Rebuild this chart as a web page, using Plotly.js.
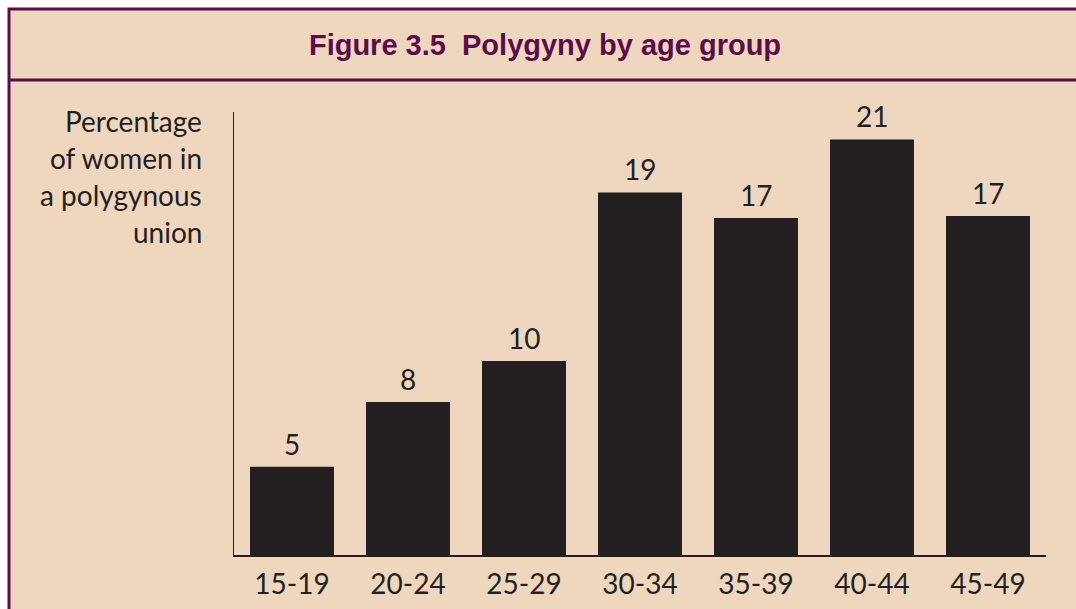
<!DOCTYPE html>
<html>
<head>
<meta charset="utf-8">
<script src="https://cdn.plot.ly/plotly-3.0.1.min.js"></script>
<style>
  html, body { margin: 0; padding: 0; background: #ffffff; }
  #chart { width: 1076px; height: 609px; }
</style>
</head>
<body>
<div id="chart"></div>
<script>
// Polygyny by age group
const ageGroups = ['15-19', '20-24', '25-29', '30-34', '35-39', '40-44', '45-49'];
const pctValues = [4.5, 7.8, 9.9, 18.5, 17.2, 21.2, 17.3];
const pctLabels = ['5', '8', '10', '19', '17', '21', '17'];
const yTitleLines = ['Percentage', 'of women in', 'a polygynous', 'union'];

const beige = '#efd7bf';
const purple = '#5b0c4a';
const ink = '#231f20';

// plot area in pixels: x 234..1046, y 112..555
const W = 1076, H = 609;
const L = 234, R = 1046, T = 112, B = 555;
const px = x => (x - L) / (R - L);
const py = y => (B - y) / (B - T);

const valueNotes = ageGroups.map((g, i) => ({
    x: g,
    y: pctValues[i],
    xref: 'x',
    yref: 'y',
    text: pctLabels[i],
    showarrow: false,
    yanchor: 'bottom',
    yshift: 4,
    font: { family: 'Lato, sans-serif', size: 28, color: ink }
}));

const titleNotes = yTitleLines.map((line, i) => ({
    x: px(204),
    y: py(121 + i * 37),
    xref: 'paper',
    yref: 'paper',
    text: line,
    showarrow: false,
    xanchor: 'right',
    yanchor: 'middle',
    font: { family: 'Lato, sans-serif', size: 28, color: ink }
}));

Plotly.newPlot('chart', [{
    x: ageGroups,
    y: pctValues,
    type: 'bar',
    width: 0.724,
    marker: { color: ink, line: { width: 0 } },
    hoverinfo: 'x+y'
}], {
    width: W,
    height: H,
    paper_bgcolor: '#ffffff',
    plot_bgcolor: 'rgba(0,0,0,0)',
    margin: { l: L, r: W - R, t: T, b: H - B },
    showlegend: false,
    title: {
        text: '<b>Figure 3.5  Polygyny by age group</b>',
        font: { family: 'Liberation Sans, Arial, sans-serif', size: 29, color: purple },
        xref: 'container',
        yref: 'container',
        x: 545 / W,
        y: 1 - 45 / H,
        xanchor: 'center',
        yanchor: 'middle'
    },
    xaxis: {
        type: 'category',
        range: [-0.5, 6.5],
        showline: true,
        linecolor: ink,
        linewidth: 1.5,
        ticks: '',
        ticklabelstandoff: 4,
        showgrid: false,
        zeroline: false,
        tickfont: { family: 'Lato, sans-serif', size: 28, color: ink },
        fixedrange: true
    },
    yaxis: {
        range: [0, 443 / 19.6],
        showline: true,
        linecolor: ink,
        linewidth: 1.5,
        ticks: '',
        showticklabels: false,
        showgrid: false,
        zeroline: false,
        fixedrange: true
    },
    shapes: [{
        type: 'rect',
        xref: 'paper',
        yref: 'paper',
        x0: px(9), x1: px(1100),
        y0: py(9), y1: py(640),
        fillcolor: beige,
        line: { color: purple, width: 3 },
        layer: 'below'
    }, {
        type: 'line',
        xref: 'paper',
        yref: 'paper',
        x0: px(9), x1: px(1100),
        y0: py(80), y1: py(80),
        line: { color: purple, width: 3 },
        layer: 'below'
    }],
    annotations: valueNotes.concat(titleNotes)
}, {
    displayModeBar: false,
    staticPlot: true
});
</script>
</body>
</html>
